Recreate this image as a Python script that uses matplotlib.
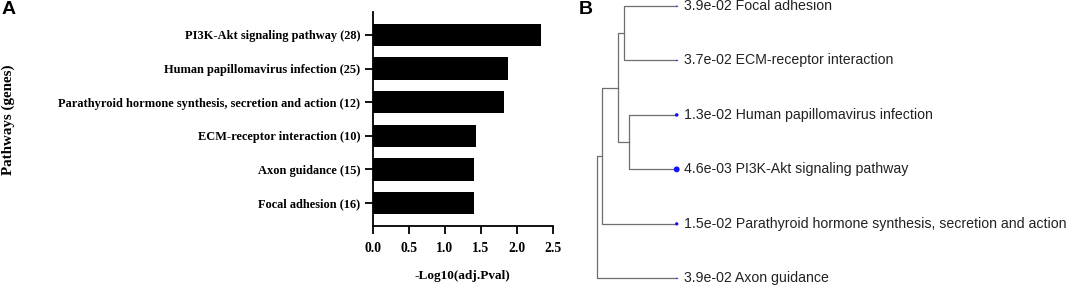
import matplotlib
matplotlib.use('Agg')
import matplotlib.pyplot as plt
import numpy as np

# panel A data (bottom to top)
pathways = ['Focal adhesion (16)', 'Axon guidance (15)', 'ECM-receptor interaction (10)',
            'Parathyroid hormone synthesis, secretion and action (12)',
            'Human papillomavirus infection (25)', 'PI3K-Akt signaling pathway (28)']
neglog = [1.41, 1.41, 1.43, 1.82, 1.88, 2.34]
xticks = [0.0, 0.5, 1.0, 1.5, 2.0, 2.5]

# panel B data (leaf order top to bottom)
leaf_names = ['Focal adhesion', 'ECM-receptor interaction', 'Human papillomavirus infection',
              'PI3K-Akt signaling pathway', 'Parathyroid hormone synthesis, secretion and action',
              'Axon guidance']
leaf_p = ['3.9e-02', '3.7e-02', '1.3e-02', '4.6e-03', '1.5e-02', '3.9e-02']
# merges: (node a, node b, height); new nodes numbered from 6
merges = [(0, 1, 0.655), (2, 3, 0.593), (6, 7, 0.730), (8, 4, 0.930), (9, 5, 1.0)]

W, H = 1072, 287
fig = plt.figure(figsize=(W / 100, H / 100), dpi=100)

# ---- panel A
axA = fig.add_axes([373 / W, 61 / H, 179.7 / W, 214 / H])
y = np.arange(len(pathways))
axA.barh(y, neglog, height=0.66, color='black')
axA.set_xlim(0, 2.5)
axA.set_ylim(-0.68, 5.68)
axA.set_xticks(xticks)
axA.set_xticklabels(['%.1f' % t for t in xticks])
axA.set_yticks(y)
axA.set_yticklabels(pathways)
for s in ['top', 'right']:
    axA.spines[s].set_visible(False)
for s in ['left', 'bottom']:
    axA.spines[s].set_linewidth(1.3)
axA.tick_params(width=1.3, length=5.5)
axA.tick_params(axis='y', labelsize=8.9)
axA.tick_params(axis='x', labelsize=9.8, pad=6)
serif = {'family': 'Liberation Serif', 'weight': 'bold'}
for lab in axA.get_xticklabels() + axA.get_yticklabels():
    lab.set_fontfamily('Liberation Serif')
    lab.set_fontweight('bold')
axA.set_xlabel('-Log10(adj.Pval)', fontdict=serif, fontsize=9.5, labelpad=11)
fig.text(8 / W, 1 - 120 / H, 'Pathways (genes)', rotation=90, ha='center', va='center',
         fontdict=serif, fontsize=10.8)
fig.text(2 / W, 1 - 10 / H, 'A', ha='left', va='center', fontsize=14, fontweight='bold',
         family='Liberation Sans')

# ---- panel B: dendrogram
axB = fig.add_axes([596.7 / W, 1 - 278.3 / H, 80 / W, 272.3 / H])
axB.set_xlim(1.0, 0.0)
axB.set_ylim(len(leaf_names) - 1, 0)
axB.axis('off')
lc = '#6e6e6e'
pos = {i: (0.0, float(i)) for i in range(len(leaf_names))}
nid = len(leaf_names)
for a, b, h in merges:
    xa, ya = pos[a]
    xb, yb = pos[b]
    axB.plot([xa, h, h, xb], [ya, ya, yb, yb], color=lc, lw=0.9, clip_on=False)
    pos[nid] = (h, (ya + yb) / 2)
    nid += 1

sig = -np.log10([float(p) for p in leaf_p])
diam = 1.2 + 5.0 * (sig - sig.min())
sizes = (diam * 0.72) ** 2
axB.scatter(np.zeros(len(leaf_names)), np.arange(len(leaf_names)), s=sizes,
            color='#1010ff', clip_on=False, zorder=3, linewidths=0)
for i, (p, n) in enumerate(zip(leaf_p, leaf_names)):
    axB.annotate(p + ' ' + n, (0, i), xytext=(5.3, 0), textcoords='offset points',
                 ha='left', va='center', fontsize=10.2, color='#222222',
                 family='Liberation Sans', annotation_clip=False)
fig.text(579 / W, 1 - 10 / H, 'B', ha='left', va='center', fontsize=14, fontweight='bold',
         family='Liberation Sans')

fig.savefig('out.png', dpi=100)
